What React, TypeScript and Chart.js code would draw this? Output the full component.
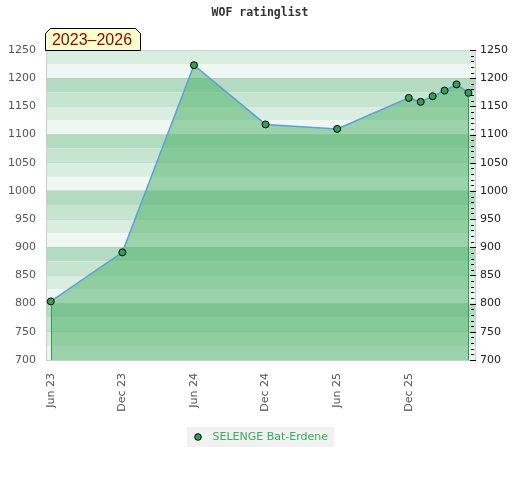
import React, { useEffect, useRef } from "react";
import { Chart, registerables } from "chart.js";

Chart.register(...registerables);

const chartTitle = "WOF ratinglist";
const periodLabel = "2023–2026";
const playerName = "SELENGE Bat-Erdene";

// months counted from Jun 2023
const monthIndex = [0, 6, 12, 18, 24, 30, 31, 32, 33, 34, 35];
const ratings = [804, 891, 1223, 1118, 1110, 1165, 1158, 1168, 1178, 1189, 1174];

const xTickMonths = [0, 6, 12, 18, 24, 30];
const xTickLabels = ["Jun 23", "Dec 23", "Jun 24", "Dec 24", "Jun 25", "Dec 25"];

const yMin = 700;
const yMax = 1250;
const xMin = -0.4;
const xMax = 35.55;

const stripeColors = ["#daede1", "#eff7f2", "#b2dbc1", "#c6e5d1"];
const FONT = '"DejaVu Sans", sans-serif';

const stripesPlugin = {
  id: "stripes",
  beforeDraw(chart: any) {
    const { ctx, chartArea: a } = chart;
    const y = chart.scales.y;
    ctx.save();
    let k = 0;
    for (let v = yMax; v > yMin; v -= 25, k++) {
      const t = y.getPixelForValue(v);
      const b = y.getPixelForValue(v - 25);
      ctx.fillStyle = stripeColors[k % 4];
      ctx.fillRect(a.left, t, a.right - a.left, b - t);
    }
    ctx.restore();
  },
};

const edgeLinesPlugin = {
  id: "edgeLines",
  afterDatasetsDraw(chart: any) {
    const { ctx, chartArea: a } = chart;
    const meta = chart.getDatasetMeta(0);
    const pts = [meta.data[0], meta.data[meta.data.length - 1]];
    ctx.save();
    ctx.strokeStyle = "#2ea04f";
    ctx.lineWidth = 1;
    for (const p of pts) {
      const x = Math.round(p.x) + 0.5;
      ctx.beginPath();
      ctx.moveTo(x, p.y + 4);
      ctx.lineTo(x, a.bottom);
      ctx.stroke();
    }
    ctx.restore();
  },
};

const innerTicksPlugin = {
  id: "innerTicks",
  afterDatasetsDraw(chart: any) {
    const { ctx, chartArea: a } = chart;
    const s = chart.scales.y2;
    ctx.save();
    ctx.strokeStyle = "#000";
    ctx.lineWidth = 1;
    for (const t of s.ticks) {
      const yy = Math.round(s.getPixelForValue(t.value)) + 0.5;
      const major = t.value % 50 === 0;
      ctx.beginPath();
      ctx.moveTo(a.right - (major ? 5 : 4), yy);
      ctx.lineTo(a.right + (major ? 1 : -1), yy);
      ctx.stroke();
    }
    ctx.restore();
  },
};

const decorPlugin = {
  id: "decor",
  afterDraw(chart: any) {
    const { ctx, chartArea: a } = chart;
    ctx.save();
    // period label box
    const l = a.left - 0.5;
    const r = 140.5;
    const t = 28.5;
    const b = a.top + 0.5;
    const c = 5;
    ctx.beginPath();
    ctx.moveTo(l, b);
    ctx.lineTo(l, t + c);
    ctx.lineTo(l + c, t);
    ctx.lineTo(r - c, t);
    ctx.lineTo(r, t + c);
    ctx.lineTo(r, b);
    ctx.closePath();
    ctx.fillStyle = "#ffffcc";
    ctx.fill();
    ctx.strokeStyle = "#000";
    ctx.lineWidth = 1;
    ctx.stroke();
    ctx.fillStyle = "#8b0000";
    ctx.font = '16px "Liberation Sans", sans-serif';
    ctx.textAlign = "center";
    ctx.textBaseline = "middle";
    ctx.fillText(periodLabel, (l + r) / 2 - 1, (t + b) / 2 + 1);

    // legend
    const ds = chart.data.datasets[0];
    ctx.font = "11px " + FONT;
    const tw = ctx.measureText(ds.label).width;
    const bw = 7.5 + 7 + 7.5 + tw + 10;
    const cx = chart.width / 2 + 0.5;
    const bx = Math.round(cx - bw / 2);
    const by = a.bottom + 67;
    ctx.fillStyle = "#f1f1f1";
    ctx.fillRect(bx, by, bw, 20);
    ctx.beginPath();
    ctx.arc(bx + 11, by + 10, 3.3, 0, Math.PI * 2);
    ctx.fillStyle = ds.pointBackgroundColor;
    ctx.fill();
    ctx.strokeStyle = "#000";
    ctx.stroke();
    ctx.fillStyle = "#3aaa5e";
    ctx.textAlign = "left";
    ctx.textBaseline = "middle";
    ctx.fillText(ds.label, bx + 25.5, by + 10.5);
    ctx.restore();
  },
};

export default function App() {
  const ref = useRef<HTMLCanvasElement>(null);

  useEffect(() => {
    if (!ref.current) return;
    Chart.defaults.font.family = FONT;
    const chart = new Chart(ref.current, {
      type: "line",
      data: {
        datasets: [
          {
            label: playerName,
            data: monthIndex.map((m, i) => ({ x: m, y: ratings[i] })),
            borderColor: "#5aa0d8",
            borderWidth: 1.5,
            backgroundColor: "rgba(70,175,100,0.5)",
            fill: "start",
            tension: 0,
            pointRadius: 3.5,
            pointBackgroundColor: "#33a05a",
            pointBorderColor: "#000",
            pointBorderWidth: 1,
            xAxisID: "x",
            yAxisID: "y",
          },
        ],
      },
      options: {
        animation: false,
        responsive: false,
        layout: { padding: { left: 0, right: 0, top: 0, bottom: 60 } },
        plugins: {
          legend: { display: false },
          tooltip: { enabled: false },
          title: {
            display: true,
            text: chartTitle,
            color: "#333",
            font: { family: '"DejaVu Sans Mono", monospace', size: 11.5, weight: "bold" },
            padding: { top: 6.5, bottom: 29.7 },
          },
        },
        scales: {
          x: {
            type: "linear",
            min: xMin,
            max: xMax,
            grid: { display: false },
            border: { color: "#cccccc" },
            afterBuildTicks: (s: any) => {
              s.ticks = xTickMonths.map((v) => ({ value: v }));
            },
            afterFit: (s: any) => {
              s.height = 60;
            },
            ticks: {
              autoSkip: false,
              minRotation: 90,
              maxRotation: 90,
              padding: 5,
              color: "#555",
              font: { size: 11 },
              callback: (v: any) => {
                const i = xTickMonths.indexOf(Number(v));
                return i >= 0 ? xTickLabels[i] : "";
              },
            },
          },
          y: {
            position: "left",
            min: yMin,
            max: yMax,
            grid: { color: "rgba(0,0,0,0.08)", drawTicks: false },
            border: { color: "#cccccc" },
            afterFit: (s: any) => {
              s.width = 46;
            },
            ticks: {
              stepSize: 50,
              padding: 10,
              color: "#555",
              font: { size: 11 },
              callback: (v: any) => String(v),
            },
          },
          y2: {
            position: "right",
            min: yMin,
            max: yMax,
            grid: { display: false, drawTicks: false },
            border: { color: "#cccccc" },
            afterFit: (s: any) => {
              s.width = 45;
            },
            ticks: {
              stepSize: 10,
              autoSkip: false,
              padding: 5,
              color: "#222",
              font: { size: 11 },
              callback: (v: any) => (Number(v) % 50 === 0 ? String(v) : ""),
            },
          },
        },
      } as any,
      plugins: [stripesPlugin, edgeLinesPlugin, innerTicksPlugin, decorPlugin],
    });
    return () => chart.destroy();
  }, []);

  return (
    <div style={{ position: "absolute", left: 0, top: 0, width: 520, height: 480, background: "#fff" }}>
      <canvas ref={ref} width={520} height={480} />
    </div>
  );
}
